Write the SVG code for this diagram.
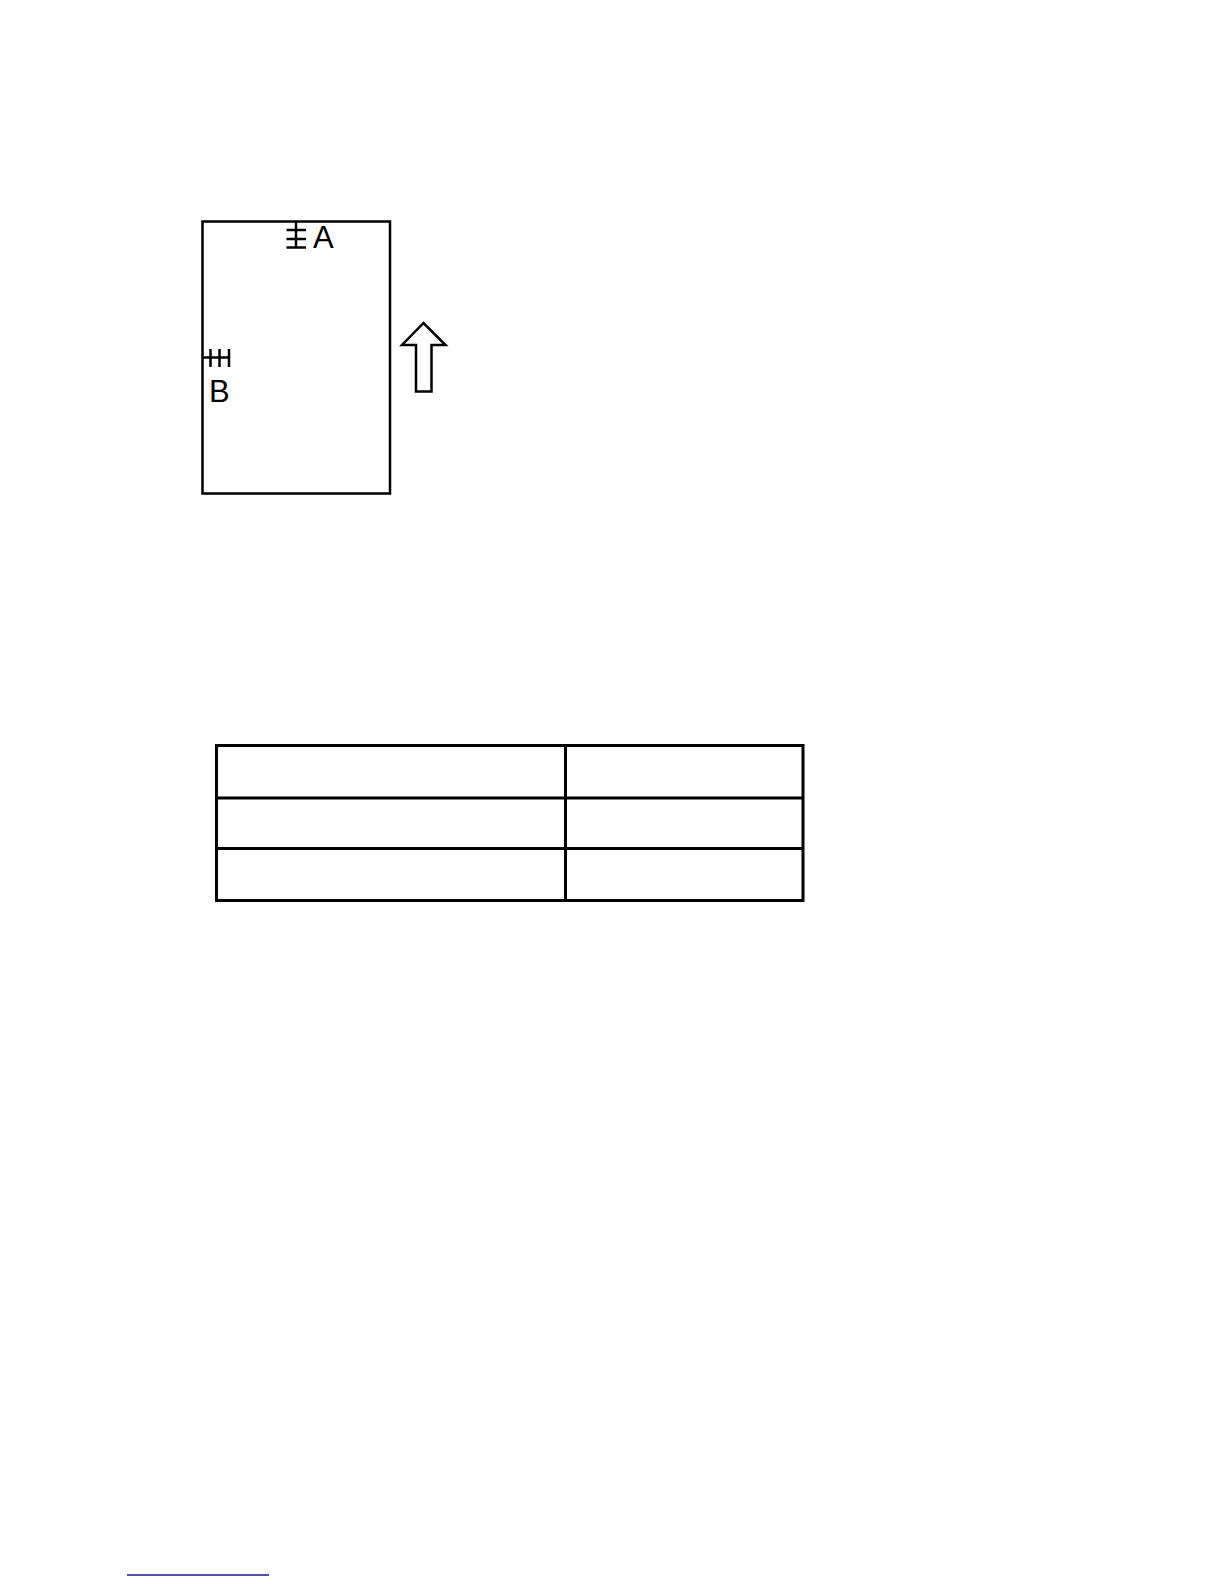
<svg xmlns="http://www.w3.org/2000/svg" width="1224" height="1584" viewBox="0 0 1224 1584">
<style>
.ln{fill:none;stroke:#000;stroke-width:2.5}
.tb{fill:none;stroke:#000;stroke-width:3}
.lbl{font-family:"Liberation Sans",Arial,sans-serif;font-size:31px;fill:#000}
</style>
<rect width="1224" height="1584" fill="#fff"/>
<g id="sheet">
<rect class="ln" x="202.5" y="221.5" width="187.5" height="272"/>
</g>
<g id="markA">
<path class="ln" d="M296 221V248M286.5 230H306M286.5 239H306M286.5 247.5H306"/>
<text class="lbl" x="313" y="248">A</text>
</g>
<g id="markB">
<path class="ln" d="M202 357.5H230M210.5 349V367M219.5 349V367M229 349V367"/>
<text class="lbl" x="209" y="402">B</text>
</g>
<g id="arrow">
<path class="ln" d="M423.5 323L402 345H416V391.5H431.5V345H445.5Z"/>
</g>
<g id="table">
<rect class="tb" x="216.5" y="745.5" width="586.5" height="155"/>
<path class="tb" d="M565.5 745.5V900.5M216.5 798H803M216.5 848.5H803"/>
</g>
<g id="connectors"></g>
<line x1="127" y1="1575" x2="269" y2="1575" stroke="#1a1a8c" stroke-width="1.5"/>
</svg>
